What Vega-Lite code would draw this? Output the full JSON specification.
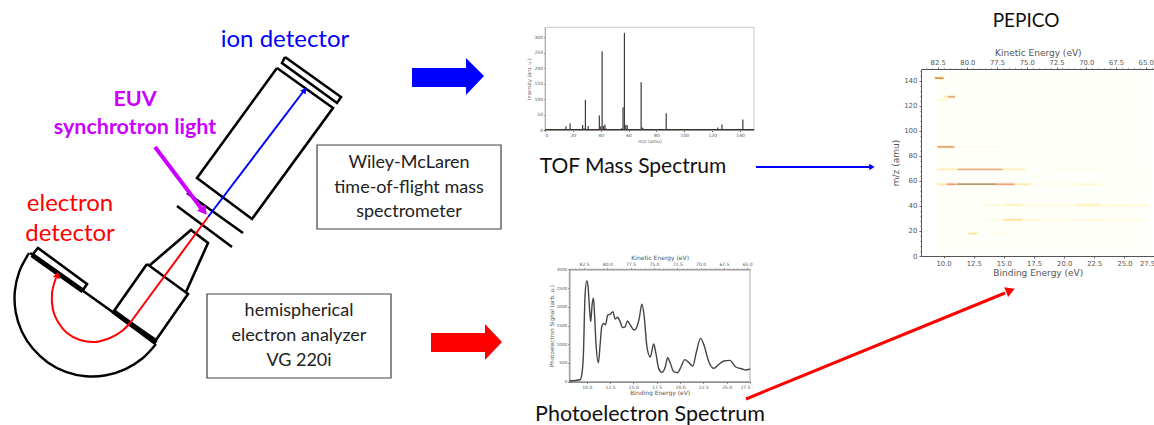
{"$schema":"https://vega.github.io/schema/vega-lite/v6.json","width":1154,"height":425,"padding":0,"autosize":"none","background":"white","config":{"view":{"stroke":null},"axis":{"grid":false,"labelFont":"DejaVu Sans","titleFont":"DejaVu Sans","titleFontWeight":"normal","domainColor":"#555","tickColor":"#666","labelColor":"#555","titleColor":"#555","labelOverlap":false},"text":{"font":"Lato"}},
"datasets":{
"shapes":[
{"s":"tube","x":277,"y":68},{"s":"tube","x":333,"y":108},{"s":"tube","x":252,"y":219},{"s":"tube","x":197,"y":178},{"s":"tube","x":277,"y":68},
{"s":"det","x":285,"y":57},{"s":"det","x":341,"y":97},{"s":"det","x":337,"y":103},{"s":"det","x":282,"y":63},{"s":"det","x":285,"y":57},
{"s":"p1","x":177,"y":206},{"s":"p1","x":232,"y":247},{"s":"p2","x":187,"y":193},{"s":"p2","x":243,"y":233},
{"s":"cone","x":150,"y":265},{"s":"cone","x":191,"y":230},{"s":"cone","x":208,"y":243},{"s":"cone","x":186,"y":292},
{"s":"lens","x":147,"y":264},{"s":"lens","x":188,"y":294},{"s":"lens","x":156,"y":340},{"s":"lens","x":114,"y":311},{"s":"lens","x":147,"y":264},
{"s":"dia","x":30,"y":253},{"s":"dia","x":156,"y":343},
{"s":"edet","x":33,"y":254},{"s":"edet","x":38,"y":248},{"s":"edet","x":87,"y":284},{"s":"edet","x":83,"y":290}],
"thick":[{"s":"a","x":32,"y":255},{"s":"a","x":83,"y":291},{"s":"b","x":113,"y":311},{"s":"b","x":156,"y":343}],
"arc":[{"x":156,"y":344},{"x":142.6,"y":358.3},{"x":125.5,"y":369.2},{"x":106,"y":375.3},{"x":85.7,"y":376.2},{"x":65.8,"y":371.8},{"x":47.8,"y":362.4},{"x":32.8,"y":348.6},{"x":21.8,"y":331.5},{"x":15.7,"y":312},{"x":14.8,"y":291.7},{"x":19.2,"y":271.8},{"x":29,"y":253}],
"redcurve":[{"x":130,"y":323},{"x":122,"y":331},{"x":110,"y":338},{"x":95,"y":342},{"x":80,"y":340},{"x":67,"y":333},{"x":58,"y":322},{"x":53,"y":310},{"x":52,"y":293},{"x":56,"y":278}],
"peaks":[{"m":15,"i":12},{"m":18,"i":22},{"m":27,"i":16},{"m":28,"i":6},{"m":29,"i":97},{"m":31,"i":13},{"m":39,"i":47},{"m":40,"i":12},{"m":41,"i":255},{"m":42,"i":13},{"m":43,"i":18},{"m":44,"i":5},{"m":55,"i":6},{"m":56,"i":74},{"m":57,"i":315},{"m":58,"i":17},{"m":59,"i":15},{"m":69,"i":155},{"m":70,"i":8},{"m":71,"i":4},{"m":87,"i":54},{"m":124,"i":8},{"m":127,"i":18},{"m":142,"i":34}],
"pes":[{"b":8.14,"s":18},{"b":9.28,"s":53},{"b":9.46,"s":178},{"b":9.64,"s":712},{"b":9.82,"s":2315},{"b":10.0,"s":2698},{"b":10.14,"s":2538},{"b":10.32,"s":1870},{"b":10.43,"s":1603},{"b":10.57,"s":2048},{"b":10.72,"s":2226},{"b":10.82,"s":1870},{"b":11.0,"s":979},{"b":11.25,"s":508},{"b":11.43,"s":979},{"b":11.61,"s":1469},{"b":11.79,"s":1558},{"b":12.0,"s":1514},{"b":12.26,"s":1781},{"b":12.51,"s":1799},{"b":12.8,"s":1870},{"b":13.05,"s":1674},{"b":13.3,"s":1719},{"b":13.58,"s":1603},{"b":13.84,"s":1443},{"b":14.12,"s":1469},{"b":14.37,"s":1621},{"b":14.66,"s":1514},{"b":15.09,"s":1380},{"b":15.38,"s":1469},{"b":15.63,"s":1692},{"b":15.91,"s":2066},{"b":16.16,"s":1737},{"b":16.45,"s":935},{"b":16.81,"s":659},{"b":17.17,"s":1006},{"b":17.38,"s":801},{"b":17.71,"s":356},{"b":18.06,"s":249},{"b":18.42,"s":400},{"b":18.67,"s":641},{"b":18.96,"s":490},{"b":19.32,"s":267},{"b":19.75,"s":240},{"b":20.11,"s":400},{"b":20.5,"s":588},{"b":20.93,"s":516},{"b":21.36,"s":419},{"b":21.76,"s":801},{"b":22.19,"s":1157},{"b":22.54,"s":996},{"b":23.08,"s":534},{"b":23.62,"s":356},{"b":24.16,"s":463},{"b":24.7,"s":552},{"b":25.34,"s":570},{"b":25.95,"s":400},{"b":26.67,"s":338},{"b":27.03,"s":312},{"b":27.5,"s":338}],
"heat":[
{"b":9.3,"b2":10.0,"m":141.4,"m2":142.6,"v":0.68},{"b":10.0,"b2":10.4,"m":126.6,"m2":127.6,"v":0.25},{"b":10.4,"b2":10.95,"m":126.6,"m2":127.6,"v":0.55},{"b":9.5,"b2":10.3,"m":124,"m2":125.2,"v":0.12},{"b":9.5,"b2":10.9,"m":86.6,"m2":87.6,"v":0.62},{"b":10.9,"b2":15,"m":86.6,"m2":87.4,"v":0.06},
{"b":9.5,"b2":11.2,"m":68.7,"m2":69.7,"v":0.2},{"b":11.2,"b2":14.9,"m":68.7,"m2":69.7,"v":0.46},{"b":14.9,"b2":16.8,"m":68.7,"m2":69.7,"v":0.18},{"b":19,"b2":23,"m":68.8,"m2":69.6,"v":0.07},{"b":23,"b2":27,"m":68.8,"m2":69.6,"v":0.03},
{"b":9.5,"b2":10.3,"m":56.7,"m2":57.9,"v":0.24},{"b":10.3,"b2":11,"m":56.7,"m2":57.9,"v":0.5},{"b":11.1,"b2":14.4,"m":56.8,"m2":57.8,"v":0.95},{"b":14.4,"b2":15.9,"m":56.7,"m2":57.9,"v":0.48},{"b":15.9,"b2":17.2,"m":56.7,"m2":57.9,"v":0.22},{"b":17.2,"b2":21,"m":56.8,"m2":57.8,"v":0.06},{"b":21,"b2":23,"m":56.6,"m2":57.8,"v":0.11},{"b":23,"b2":27,"m":56.8,"m2":57.8,"v":0.05},
{"b":9.5,"b2":13.4,"m":40.2,"m2":41.2,"v":0.03},{"b":13.4,"b2":15,"m":40.2,"m2":41.2,"v":0.1},{"b":15,"b2":16.5,"m":40.2,"m2":41.2,"v":0.2},{"b":16.5,"b2":21,"m":40.2,"m2":41.2,"v":0.09},{"b":21,"b2":23,"m":39.6,"m2":41.8,"v":0.14},{"b":23,"b2":27,"m":39.6,"m2":41.2,"v":0.1},
{"b":13.5,"b2":15,"m":28.4,"m2":29.4,"v":0.08},{"b":15,"b2":16.5,"m":28.4,"m2":29.4,"v":0.32},{"b":16.5,"b2":18,"m":28.4,"m2":29.4,"v":0.13},{"b":18,"b2":21,"m":28.4,"m2":29.4,"v":0.07},{"b":21,"b2":23,"m":28.4,"m2":29.4,"v":0.13},{"b":23,"b2":27,"m":28.4,"m2":29.4,"v":0.07},
{"b":12.1,"b2":12.8,"m":17.5,"m2":18.5,"v":0.3},{"b":14,"b2":15.5,"m":17.6,"m2":18.4,"v":0.08}]
},
"resolve":{"scale":{"x":"independent","y":"independent","color":"independent","stroke":"independent"},"axis":{"x":"independent","y":"independent"}},
"layer":[
{"resolve":{"scale":{"x":"shared","y":"shared"}},
"encoding":{"x":{"field":"x","type":"quantitative","axis":null,"scale":{"domain":[0,1154],"range":[0,1154],"nice":false}},"y":{"field":"y","type":"quantitative","axis":null,"scale":{"domain":[0,425],"range":[0,425],"nice":false}}},
"layer":[
{"data":{"name":"shapes"},"mark":{"type":"line","order":false,"color":"#000","strokeWidth":2.6,"strokeJoin":"miter"},"encoding":{"detail":{"field":"s"}}},
{"data":{"name":"arc"},"mark":{"type":"line","order":false,"color":"#000","strokeWidth":2.4,"interpolate":"cardinal"}},
{"data":{"name":"thick"},"mark":{"type":"line","order":false,"color":"#000","strokeWidth":5},"encoding":{"detail":{"field":"s"}}},
{"data":{"values":[{"x":208,"y":217},{"x":306,"y":88}]},"mark":{"type":"line","order":false,"color":"#0000ff","strokeWidth":2}},
{"data":{"values":[{"x":304,"y":91}]},"mark":{"type":"point","shape":"triangle","angle":37,"size":45,"filled":true,"opacity":1,"color":"#0000ff"}},
{"data":{"values":[{"x":155,"y":147},{"x":201,"y":208}]},"mark":{"type":"line","order":false,"color":"#cc00ff","strokeWidth":4}},
{"data":{"values":[{"x":203,"y":210}]},"mark":{"type":"point","shape":"triangle","angle":142,"size":110,"filled":true,"opacity":1,"color":"#cc00ff"}},
{"data":{"values":[{"x":208,"y":217},{"x":130,"y":323}]},"mark":{"type":"line","order":false,"color":"#ff0000","strokeWidth":2}},
{"data":{"name":"redcurve"},"mark":{"type":"line","order":false,"color":"#ff0000","strokeWidth":2,"interpolate":"cardinal"}},
{"data":{"values":[{"x":57,"y":276}]},"mark":{"type":"point","shape":"triangle","angle":15,"size":55,"filled":true,"opacity":1,"color":"#ff0000"}},
{"data":{"values":[{"x":412,"y":68,"y2":87},{"x":466,"y":68,"y2":87},{"x":466,"y":58,"y2":95},{"x":484,"y":76,"y2":76}]},"mark":{"type":"area","color":"#0000ff"},"encoding":{"y2":{"field":"y2"}}},
{"data":{"values":[{"x":431,"y":333,"y2":352},{"x":485,"y":333,"y2":352},{"x":485,"y":324,"y2":360},{"x":502,"y":342,"y2":342}]},"mark":{"type":"area","color":"#ff0000"},"encoding":{"y2":{"field":"y2"}}},
{"data":{"values":[{"x":756,"y":167},{"x":870,"y":167}]},"mark":{"type":"line","order":false,"color":"#0000ff","strokeWidth":2}},
{"data":{"values":[{"x":871,"y":167}]},"mark":{"type":"point","shape":"triangle","angle":90,"size":40,"filled":true,"opacity":1,"color":"#0000ff"}},
{"data":{"values":[{"x":746,"y":399},{"x":1005,"y":293}]},"mark":{"type":"line","order":false,"color":"#ff0000","strokeWidth":3}},
{"data":{"values":[{"x":1009,"y":291}]},"mark":{"type":"point","shape":"triangle","angle":68,"size":110,"filled":true,"opacity":1,"color":"#ff0000"}},
{"data":{"values":[{"x":317,"y":145,"x2":501,"y2":229},{"x":207,"y":294,"x2":391,"y2":378}]},"mark":{"type":"rect","fill":"#fff","stroke":"#404040","strokeWidth":1.2},"encoding":{"x2":{"field":"x2"},"y2":{"field":"y2"}}},
{"data":{"values":[{"x":409,"y":163,"t":"Wiley-McLaren"},{"x":409,"y":188,"t":"time-of-flight mass"},{"x":409,"y":212,"t":"spectrometer"},{"x":299,"y":311,"t":"hemispherical"},{"x":299,"y":336,"t":"electron analyzer"},{"x":299,"y":361,"t":"VG 220i"}]},"mark":{"type":"text","fontSize":18,"color":"#222","baseline":"middle"},"encoding":{"text":{"field":"t"}}},
{"data":{"values":[{"x":285,"y":40,"t":"ion detector"}]},"mark":{"type":"text","fontSize":24,"color":"#0000ff","baseline":"middle"},"encoding":{"text":{"field":"t"}}},
{"data":{"values":[{"x":135,"y":100,"t":"EUV"},{"x":135,"y":128,"t":"synchrotron light"}]},"mark":{"type":"text","fontSize":21.5,"fontWeight":"bold","color":"#cc00ff","baseline":"middle"},"encoding":{"text":{"field":"t"}}},
{"data":{"values":[{"x":70,"y":204,"t":"electron"},{"x":70,"y":234,"t":"detector"}]},"mark":{"type":"text","fontSize":24,"color":"#ff0000","baseline":"middle"},"encoding":{"text":{"field":"t"}}},
{"data":{"values":[{"x":633,"y":167,"t":"TOF Mass Spectrum"}]},"mark":{"type":"text","fontSize":21,"color":"#111","baseline":"middle"},"encoding":{"text":{"field":"t"}}},
{"data":{"values":[{"x":650,"y":415,"t":"Photoelectron Spectrum"}]},"mark":{"type":"text","fontSize":21.5,"color":"#111","baseline":"middle"},"encoding":{"text":{"field":"t"}}},
{"data":{"values":[{"x":1026,"y":21,"t":"PEPICO"}]},"mark":{"type":"text","fontSize":19,"color":"#111","baseline":"middle"},"encoding":{"text":{"field":"t"}}}
]},
{"resolve":{"scale":{"x":"shared","y":"shared"}},
"layer":[
{"data":{"values":[{"a":0,"a2":150,"c":0,"c2":333}]},"mark":{"type":"rect","fill":null,"stroke":"#c8c8c8","strokeWidth":1},"encoding":{"x":{"field":"a","type":"quantitative","scale":{"domain":[0,150],"range":[545,754],"nice":false},"axis":{"orient":"bottom","offset":-295,"values":[0,20,40,60,80,100,120,140],"title":"m/z (amu)","labelFontSize":4.5,"titleFontSize":4.6,"tickSize":1.5,"labelPadding":1,"titlePadding":1,"domainColor":"#999"}},"x2":{"field":"a2"},"y":{"field":"c","type":"quantitative","scale":{"domain":[0,333],"range":[130,27.3],"nice":false},"axis":{"orient":"left","offset":-545,"values":[0,50,100,150,200,250,300],"title":"Intensity (arb. u.)","labelFontSize":4.5,"titleFontSize":4.8,"tickSize":1.5,"labelPadding":1,"titlePadding":2,"domainColor":"#999"}},"y2":{"field":"c2"}}},
{"data":{"values":[{"a":0,"a2":150,"c":1}]},"mark":{"type":"rule","color":"#333","strokeWidth":1.2},"encoding":{"x":{"field":"a","type":"quantitative"},"x2":{"field":"a2"},"y":{"field":"c","type":"quantitative"}}},
{"data":{"name":"peaks"},"mark":{"type":"rule","color":"#3a3a3a","strokeWidth":1.2},"encoding":{"x":{"field":"m","type":"quantitative"},"y":{"field":"i","type":"quantitative"},"y2":{"datum":0}}}
]},
{"resolve":{"scale":{"x":"shared","y":"shared"}},
"layer":[
{"data":{"values":[{"a":8.13,"a2":27.5,"c":0,"c2":3000}]},"mark":{"type":"rect","fill":null,"stroke":"#aaa","strokeWidth":1},"encoding":{"x":{"field":"a","type":"quantitative","scale":{"domain":[8.13,27.5],"range":[569.3,750],"nice":false},"axis":{"orient":"bottom","offset":-43.3,"values":[10,12.5,15,17.5,20,22.5,25,27.5],"format":".1f","title":"Binding Energy (eV)","labelFontSize":4.5,"titleFontSize":6,"tickSize":1.5,"labelPadding":1,"titlePadding":1}},"x2":{"field":"a2"},"y":{"field":"c","type":"quantitative","scale":{"domain":[0,3000],"range":[381.7,269.3],"nice":false},"axis":{"orient":"left","offset":-569.3,"values":[0,500,1000,1500,2000,2500,3000],"format":"d","title":"Photoelectron Signal (arb. u.)","labelFontSize":4.2,"titleFontSize":5.6,"tickSize":1.5,"labelPadding":1,"titlePadding":2}},"y2":{"field":"c2"}}},
{"data":{"name":"pes"},"mark":{"type":"line","color":"#444","strokeWidth":1.4,"interpolate":"monotone"},"encoding":{"x":{"field":"b","type":"quantitative"},"y":{"field":"s","type":"quantitative"}}}
]},
{"data":{"values":[{"k":70}]},"mark":{"type":"rule","opacity":0},"encoding":{"x":{"field":"k","type":"quantitative","scale":{"domain":[84.08,64.7],"range":[569.3,750],"nice":false},"axis":{"orient":"top","offset":-269.3,"values":[82.5,80,77.5,75,72.5,70,67.5,65],"format":".1f","title":"Kinetic Energy (eV)","labelFontSize":4.5,"titleFontSize":6,"tickSize":1.5,"labelPadding":1,"titlePadding":1}}}},
{"data":{"values":[{"k":70}]},"mark":{"type":"rule","opacity":0},"encoding":{"x":{"field":"k","type":"quantitative","scale":{"domain":[84.08,64.7],"range":[569.3,750],"nice":false},"axis":{"orient":"top","offset":-269.3,"values":[84,83.5,83,82,81.5,81,80.5,79.5,79,78.5,78,77,76.5,76,75.5,74.5,74,73.5,73,72,71.5,71,70.5,69.5,69,68.5,68,67,66.5,66,65.5,64.5],"labels":false,"title":null,"tickSize":1,"domain":false}}}},
{"data":{"values":[{"a":9.3,"a2":27,"c":0.5,"c2":147}]},"mark":{"type":"rect","fill":"#fffffa"},"encoding":{"x":{"field":"a","type":"quantitative","axis":null,"scale":{"domain":[8.13,27.5],"range":[921,1154.6],"nice":false}},"x2":{"field":"a2"},"y":{"field":"c","type":"quantitative","axis":null,"scale":{"domain":[0,149.3],"range":[256,69],"nice":false}},"y2":{"field":"c2"}}},
{"resolve":{"scale":{"x":"shared","y":"shared","stroke":"shared","color":"shared"}},
"layer":[
{"data":{"name":"heat"},"mark":{"type":"rect","strokeWidth":2,"strokeOpacity":0.2},"encoding":{"x":{"field":"b","type":"quantitative","scale":{"domain":[8.13,27.5],"range":[921,1154.6],"nice":false},"axis":{"orient":"bottom","offset":-169,"values":[10,12.5,15,17.5,20,22.5,25,27.5],"format":".1f","title":"Binding Energy (eV)","labelFontSize":6.8,"titleFontSize":9,"tickSize":2,"labelPadding":2,"titlePadding":2}},"x2":{"field":"b2"},"y":{"field":"m","type":"quantitative","scale":{"domain":[0,149.3],"range":[256,69],"nice":false},"axis":{"orient":"left","offset":-921,"values":[0,20,40,60,80,100,120,140],"title":"m/z (amu)","labelFontSize":7,"titleFontSize":9,"tickSize":2,"labelPadding":2,"titlePadding":3}},"y2":{"field":"m2"},"color":{"field":"v","type":"quantitative","legend":null,"scale":{"interpolate":"rgb","domain":[0,0.1,0.3,0.5,0.7,1],"range":["#ffffff","#fffad8","#ffe388","#ee9a70","#c0802a","#6f6a5a"]}},"stroke":{"field":"v","type":"quantitative","legend":null,"scale":{"interpolate":"rgb","domain":[0,0.1,0.3,0.5,0.7,1],"range":["#ffffff","#fffad8","#ffe388","#ee9a70","#e8b030","#ffd860"]}}}}
]},
{"data":{"values":[{"k":70}]},"mark":{"type":"rule","opacity":0},"encoding":{"x":{"field":"k","type":"quantitative","scale":{"domain":[83.9,64.25],"range":[921,1154.6],"nice":false},"axis":{"orient":"top","offset":-69,"values":[82.5,80,77.5,75,72.5,70,67.5,65],"format":".1f","title":"Kinetic Energy (eV)","labelFontSize":6.8,"titleFontSize":9,"tickSize":2,"labelPadding":2,"titlePadding":2}}}},
{"data":{"values":[{"k":70}]},"mark":{"type":"rule","opacity":0},"encoding":{"x":{"field":"k","type":"quantitative","scale":{"domain":[83.9,64.25],"range":[921,1154.6],"nice":false},"axis":{"orient":"top","offset":-69,"values":[83.5,83,82,81.5,81,80.5,79.5,79,78.5,78,77,76.5,76,75.5,74.5,74,73.5,73,72,71.5,71,70.5,69.5,69,68.5,68,67,66.5,66,65.5,64.5],"labels":false,"title":null,"tickSize":1,"domain":false}}}},
{"data":{"values":[{"k":70}]},"mark":{"type":"rule","opacity":0},"encoding":{"y":{"field":"k","type":"quantitative","scale":{"domain":[0,149.3],"range":[256,69],"nice":false},"axis":{"orient":"left","offset":-921,"values":[4,8,12,16,24,28,32,36,44,48,52,56,64,68,72,76,84,88,92,96,104,108,112,116,124,128,132,136,144,148],"labels":false,"title":null,"tickSize":1,"domain":false}}}}
]}
